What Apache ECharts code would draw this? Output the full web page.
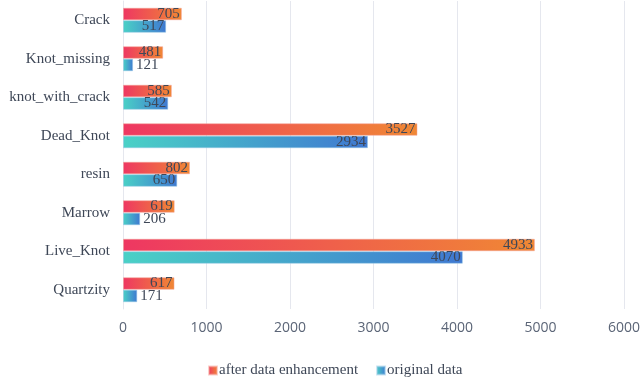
<!DOCTYPE html>
<html>
<head>
<meta charset="utf-8">
<script src="https://cdn.jsdelivr.net/npm/echarts@6/dist/echarts.min.js"></script>
<style>
html,body{margin:0;padding:0;background:#fff;}
#chart{width:643px;height:386px;}
</style>
</head>
<body>
<div id="chart"></div>
<script>
// Defect classes, listed bottom to top as the category axis draws them
const categories = ['Quartzity', 'Live_Knot', 'Marrow', 'resin', 'Dead_Knot', 'knot_with_crack', 'Knot_missing', 'Crack'];
const enhancedCounts = [617, 4933, 619, 802, 3527, 585, 481, 705];
const originalCounts = [171, 4070, 206, 650, 2934, 542, 121, 517];
const xTicks = [0, 1000, 2000, 3000, 4000, 5000, 6000];

const serif = '"Liberation Serif", "Times New Roman", serif';
const labelColor = '#3e4757';

function grad(c0, c1) {
  return new echarts.graphic.LinearGradient(0, 0, 1, 0, [
    { offset: 0, color: c0 },
    { offset: 1, color: c1 }
  ]);
}

// Short bars get their label just past the bar end
function withLabels(values) {
  return values.map(v => ({
    value: v,
    label: { position: v < 300 ? 'right' : 'insideRight', distance: v < 300 ? 3 : 2 }
  }));
}

const chart = echarts.init(document.getElementById('chart'));
chart.setOption({
  animation: false,
  grid: { left: 123, right: 17, top: 1, bottom: 77 },
  xAxis: {
    type: 'value',
    min: xTicks[0],
    max: xTicks[xTicks.length - 1],
    interval: 1000,
    axisLine: { show: false },
    axisTick: { show: false },
    splitLine: { lineStyle: { color: '#e5e7ee', width: 1 } },
    axisLabel: {
      color: '#5b6577', fontSize: 14, margin: 12, fontFamily: '"Open Sans", sans-serif',
      formatter: v => String(v)
    }
  },
  yAxis: {
    type: 'category',
    data: categories,
    axisLine: { show: true, lineStyle: { color: '#e5e7ee' } },
    axisTick: { show: false },
    axisLabel: { color: labelColor, fontSize: 15, margin: 13, fontFamily: serif }
  },
  legend: {
    bottom: 3,
    left: 203,
    itemWidth: 8,
    itemHeight: 8,
    itemGap: 18,
    icon: 'rect',
    textStyle: { color: labelColor, fontSize: 15, fontFamily: serif, padding: [0, 0, 0, -3] },
    data: ['after data enhancement', 'original data']
  },
  series: [
    {
      name: 'after data enhancement',
      type: 'bar',
      data: withLabels(enhancedCounts),
      barWidth: 12.5,
      barGap: '0%',
      itemStyle: { color: grad('#ee3762', '#f08834'), borderColor: 'rgba(245,160,150,0.5)', borderWidth: 1 },
      label: { show: true, color: labelColor, fontSize: 15, fontFamily: serif }
    },
    {
      name: 'original data',
      type: 'bar',
      data: withLabels(originalCounts),
      barWidth: 12.5,
      itemStyle: { color: grad('#4ad1c6', '#3f78d1'), borderColor: 'rgba(150,200,230,0.5)', borderWidth: 1 },
      label: { show: true, color: labelColor, fontSize: 15, fontFamily: serif }
    }
  ]
});
</script>
</body>
</html>
